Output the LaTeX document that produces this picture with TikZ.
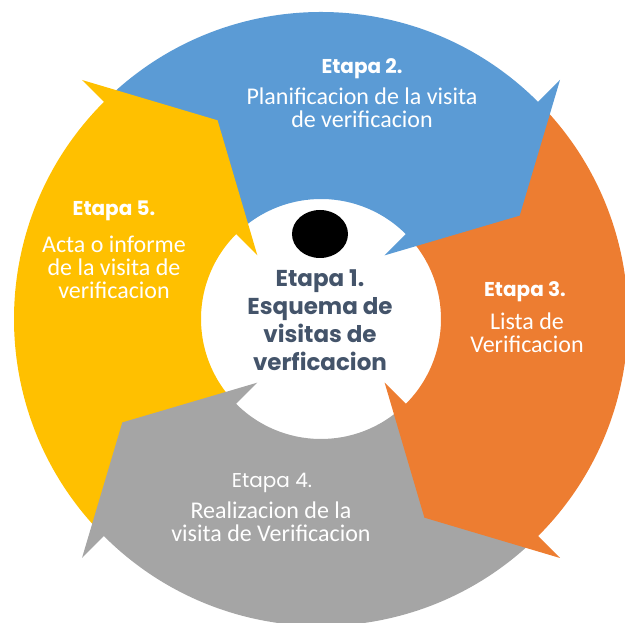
\documentclass[tikz,border=0pt]{standalone}
\usepackage{fontspec}
\setmainfont{Carlito}
\newfontfamily\poppins{Poppins}
\usetikzlibrary{shapes,arrows,positioning,calc}
\definecolor{etblue}{HTML}{5B9BD5}
\definecolor{etorange}{HTML}{ED7D31}
\definecolor{etgray}{HTML}{A5A5A5}
\definecolor{etyellow}{HTML}{FFC000}
\definecolor{etslate}{HTML}{44546A}

\begin{document}
\begin{tikzpicture}[x=1pt,y=1pt,
  head/.style={text=white,font=\poppins\bfseries\fontsize{20}{24}\selectfont,anchor=base,inner sep=0pt},
  body/.style={text=white,font=\fontsize{24}{23}\selectfont,align=center,anchor=north,inner sep=0pt},
  centre/.style={text=etslate,font=\poppins\bfseries\fontsize{23}{28}\selectfont,align=center,inner sep=0pt}]
  \clip (-321,-304) rectangle (304,319);
  % ring pieces
  \foreach \s/\e/\c in {135/45/etblue, 45/-45/etorange, -45/-135/etgray, 225/135/etyellow}
    \fill[\c] (\s-1:307) arc[start angle=\s-1, end angle=\e-1, radius=307]
      -- (\e-1:120) arc[start angle=\e-1, end angle=\s-1, radius=120] -- cycle;
  % arrow heads
  \foreach \e/\c in {45/etblue, -45/etorange, -135/etgray, 135/etyellow}
    \fill[\c] (\e:338) -- (\e-17.5:224) -- (\e:90) -- cycle;
  \fill[black] (-1,85) ellipse [x radius=28, y radius=24];
  \node[centre] (e1) at (-1,-1) {Etapa 1.\\Esquema de\\visitas de\\verficacion};
  \node[head] (h2) at (41,245) {Etapa 2.};
  \node[body] (t2) at (41,231) {Planificacion de la visita\\de verificacion};
  \node[head] (h3) at (204,22) {Etapa 3.};
  \node[body] (t3) at (206,6) {Lista de\\Verificacion};
  \node[head, font=\poppins\fontsize{20}{24}\selectfont] (h4) at (-49,-169) {Etapa 4.};
  \node[body] (t4) at (-50,-183) {Realizacion de la\\visita de Verificacion};
  \node[head] (h5) at (-207,103) {Etapa 5.};
  \node[body] (t5) at (-207,83) {Acta o informe\\de la visita de\\verificacion};
\end{tikzpicture}
\end{document}
